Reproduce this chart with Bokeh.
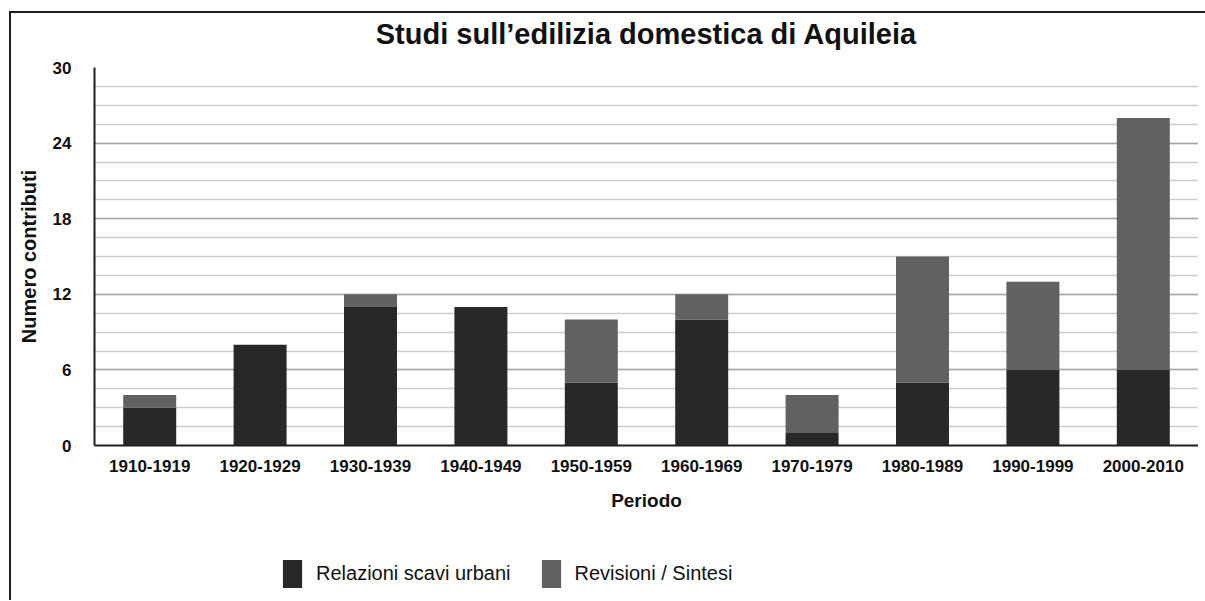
from bokeh.plotting import figure
from bokeh.models import FactorRange, Range1d, FixedTicker, Legend, LegendItem, ColumnDataSource, Label
from bokeh.layouts import column
from bokeh.embed import file_html
from bokeh.resources import INLINE

# ---- data ----
periods = ["1910-1919", "1920-1929", "1930-1939", "1940-1949", "1950-1959",
           "1960-1969", "1970-1979", "1980-1989", "1990-1999", "2000-2010"]
relazioni = [3, 8, 11, 11, 5, 10, 1, 5, 6, 6]
revisioni = [1, 0, 1, 0, 5, 2, 3, 10, 7, 20]
series_names = ["Relazioni scavi urbani", "Revisioni / Sintesi"]
y_ticks = [0, 6, 12, 18, 24, 30]
title_text = u"Studi sull\u2019edilizia domestica di Aquileia"

DARK = "#282828"
GRAY = "#616161"
FONT = "Liberation Sans"

source = ColumnDataSource(dict(period=periods, rel=relazioni, rev=revisioni))

# ---- title strip ----
t = figure(width=1187, height=41, x_range=Range1d(0, 1), y_range=Range1d(0, 1),
           output_backend="svg", toolbar_location=None,
           min_border_left=0, min_border_right=0, min_border_top=0, min_border_bottom=0)
t.axis.visible = False
t.grid.visible = False
t.outline_line_color = None
t.add_layout(Label(x=0.5, y=21, y_units="screen", text=title_text,
                   text_align="center", text_baseline="middle",
                   text_font=FONT, text_font_size="29px", text_font_style="bold",
                   text_color="#111111"))

# ---- main chart ----
p = figure(x_range=FactorRange(*periods), y_range=Range1d(0, 30),
           width=1187, height=466, output_backend="svg", toolbar_location=None,
           min_border_left=83, min_border_right=0, min_border_top=13, min_border_bottom=75)

rs = p.vbar_stack(["rel", "rev"], x="period", width=0.48, source=source,
                  fill_color=[DARK, GRAY], line_color=None)

p.outline_line_color = None
p.background_fill_color = "white"
p.border_fill_color = "white"

# y axis
p.yaxis.ticker = FixedTicker(ticks=y_ticks, minor_ticks=[1.5 * i for i in range(21)])
p.yaxis.axis_label = "Numero contributi"
p.yaxis.axis_label_text_font = FONT
p.yaxis.axis_label_text_font_size = "20px"
p.yaxis.axis_label_text_font_style = "bold"
p.yaxis.axis_label_text_color = "#111111"
p.yaxis.axis_label_standoff = 10
p.yaxis.major_label_text_font = FONT
p.yaxis.major_label_text_font_size = "17px"
p.yaxis.major_label_text_font_style = "bold"
p.yaxis.major_label_text_color = "#111111"
p.yaxis.major_label_standoff = 17
p.yaxis.major_tick_line_color = None
p.yaxis.minor_tick_line_color = None
p.yaxis.axis_line_color = "#1e1e1e"
p.yaxis.axis_line_width = 2

# x axis
p.xaxis.axis_label = "Periodo"
p.xaxis.axis_label_text_font = FONT
p.xaxis.axis_label_text_font_size = "19px"
p.xaxis.axis_label_text_font_style = "bold"
p.xaxis.axis_label_text_color = "#111111"
p.xaxis.axis_label_standoff = 15
p.xaxis.major_label_text_font = FONT
p.xaxis.major_label_text_font_size = "17px"
p.xaxis.major_label_text_font_style = "bold"
p.xaxis.major_label_text_color = "#111111"
p.xaxis.major_label_standoff = 8
p.xaxis.major_tick_line_color = None
p.xaxis.axis_line_color = "#1e1e1e"
p.xaxis.axis_line_width = 2

# grids
p.xgrid.grid_line_color = None
p.ygrid.grid_line_color = "#a6a6a6"
p.ygrid.grid_line_width = 1.5
p.ygrid.minor_grid_line_color = "#cdcdcd"
p.ygrid.minor_grid_line_width = 1.5

# ---- legend strip (proxy renderers sit outside the visible range) ----
q = figure(width=1194, height=80, x_range=Range1d(0, 1), y_range=Range1d(0, 1),
           output_backend="svg", toolbar_location=None,
           min_border_left=0, min_border_right=0, min_border_top=0, min_border_bottom=0)
q.axis.visible = False
q.grid.visible = False
q.outline_line_color = None
proxy = ColumnDataSource(dict(x=[-5], top=[-5]))
lr0 = q.vbar(x="x", top="top", width=0.1, source=proxy, fill_color=DARK, line_color=None)
lr1 = q.vbar(x="x", top="top", width=0.1, source=proxy, fill_color=GRAY, line_color=None)

legend = Legend(items=[LegendItem(label=series_names[0], renderers=[lr0]),
                       LegendItem(label=series_names[1], renderers=[lr1])],
                orientation="horizontal", location=(186, 9),
                glyph_width=24, glyph_height=35, label_standoff=12, spacing=28,
                label_text_font=FONT, label_text_font_size="20px",
                label_text_color="#111111", label_height=35,
                border_line_color=None, background_fill_alpha=0, padding=0, margin=0)
q.add_layout(legend, "center")

layout = column(t, p, q, margin=(11, 0, 0, 9),
                styles={"border-left": "2px solid #1e1e1e", "border-top": "2px solid #1e1e1e"})

open("out.html", "w").write(file_html(layout, INLINE))
